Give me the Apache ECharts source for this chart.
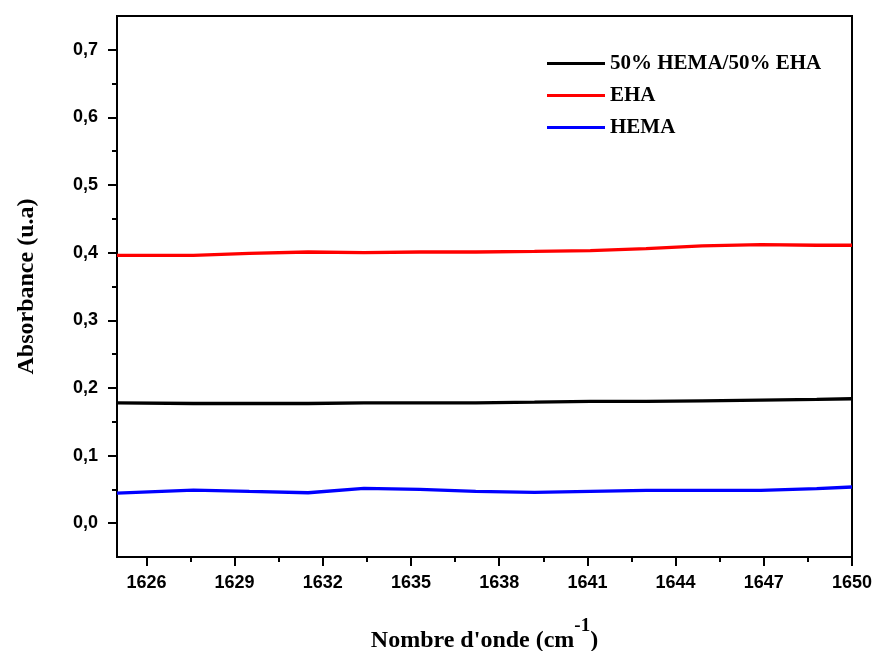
<!DOCTYPE html>
<html>
<head>
<meta charset="utf-8">
<script src="https://cdn.jsdelivr.net/npm/echarts@6/dist/echarts.min.js"></script>
<style>
  html, body { margin: 0; padding: 0; background: #fff; }
  #main { width: 875px; height: 651px; }
</style>
</head>
<body>
<div id="main"></div>
<script>
// wavenumbers (cm-1)
var waveNumbers = [1625, 1627.6, 1629.5, 1631.5, 1633.4, 1635.3, 1637.2, 1639.2, 1641.1, 1643.0, 1644.9, 1646.9, 1648.8, 1650];
var mixValues = [0.178, 0.177, 0.177, 0.177, 0.178, 0.178, 0.178, 0.179, 0.180, 0.180, 0.181, 0.182, 0.183, 0.184];
var ehaValues = [0.396, 0.396, 0.399, 0.401, 0.400, 0.401, 0.401, 0.402, 0.403, 0.406, 0.410, 0.412, 0.411, 0.411];
var hemaValues = [0.0445, 0.049, 0.047, 0.045, 0.0515, 0.050, 0.047, 0.0455, 0.047, 0.0485, 0.0485, 0.0485, 0.051, 0.0535];

var xMajorTicks = [1626, 1629, 1632, 1635, 1638, 1641, 1644, 1647, 1650];
var xMinorTicks = [1627.5, 1630.5, 1633.5, 1636.5, 1639.5, 1642.5, 1645.5, 1648.5];
var yMajorTicks = [0, 0.1, 0.2, 0.3, 0.4, 0.5, 0.6, 0.7];
var yMinorTicks = [0.05, 0.15, 0.25, 0.35, 0.45, 0.55, 0.65];

var seriesNames = ['50% HEMA/50% EHA', 'EHA', 'HEMA'];

function pairs(ys) {
    return waveNumbers.map(function (x, i) { return [x, ys[i]]; });
}

var chart = echarts.init(document.getElementById('main'));

var labelFont = {
    color: '#000',
    fontFamily: 'Liberation Sans, Arial, sans-serif',
    fontWeight: 'bold',
    fontSize: 18
};
var titleFont = {
    color: '#000',
    fontFamily: 'Liberation Serif, Times New Roman, serif',
    fontWeight: 'bold',
    fontSize: 24
};

var option = {
    backgroundColor: '#fff',
    animation: false,
    color: ['#000000', '#ff0000', '#0000ff'],
    grid: {
        left: 117,
        right: 23,
        top: 16,
        bottom: 94,
        outerBoundsMode: 'none',
        containLabel: false,
        show: true,
        borderColor: '#000',
        borderWidth: 2
    },
    legend: {
        data: seriesNames,
        orient: 'vertical',
        left: 547,
        top: 53,
        padding: 0,
        itemGap: 11,
        itemWidth: 58,
        itemHeight: 3,
        icon: 'rect',
        textStyle: {
            color: '#000',
            fontFamily: 'Liberation Serif, Times New Roman, serif',
            fontWeight: 'bold',
            fontSize: 21
        }
    },
    xAxis: [
        {
            type: 'value',
            min: 1625,
            max: 1650,
            name: "{a|Nombre d'onde (cm}{b|-1}{a|)}",
            nameLocation: 'middle',
            nameGap: 60,
            nameTextStyle: {
                rich: {
                    a: Object.assign({}, titleFont, { verticalAlign: 'bottom', lineHeight: 36 }),
                    b: Object.assign({}, titleFont, { fontSize: 19, verticalAlign: 'top', lineHeight: 36 })
                }
            },
            splitLine: { show: false },
            axisLine: { onZero: false, lineStyle: { color: '#000', width: 2 } },
            axisTick: { inside: false, length: 9, customValues: xMajorTicks, lineStyle: { color: '#000', width: 2 } },
            axisLabel: Object.assign({
                margin: 17,
                customValues: xMajorTicks,
                formatter: function (v) { return String(Math.round(v)); }
            }, labelFont)
        },
        {
            type: 'value',
            min: 1625,
            max: 1650,
            position: 'bottom',
            splitLine: { show: false },
            axisLine: { show: false, onZero: false },
            axisTick: { inside: false, length: 5, customValues: xMinorTicks, lineStyle: { color: '#000', width: 2 } },
            axisLabel: { show: false }
        }
    ],
    yAxis: [
        {
            type: 'value',
            min: -0.05,
            max: 0.75,
            name: 'Absorbance (u.a)',
            nameLocation: 'middle',
            nameRotate: 90,
            nameGap: 78,
            nameTextStyle: titleFont,
            splitLine: { show: false },
            axisLine: { show: true, onZero: false, lineStyle: { color: '#000', width: 2 } },
            axisTick: { show: true, inside: false, length: 9, customValues: yMajorTicks, lineStyle: { color: '#000', width: 2 } },
            axisLabel: Object.assign({
                margin: 19,
                customValues: yMajorTicks,
                formatter: function (v) { return v.toFixed(1).replace('.', ','); }
            }, labelFont)
        },
        {
            type: 'value',
            min: -0.05,
            max: 0.75,
            position: 'left',
            splitLine: { show: false },
            axisLine: { show: false, onZero: false },
            axisTick: { show: true, inside: false, length: 5, customValues: yMinorTicks, lineStyle: { color: '#000', width: 2 } },
            axisLabel: { show: false }
        }
    ],
    series: [
        { name: seriesNames[0], type: 'line', showSymbol: false, lineStyle: { width: 3.3 }, data: pairs(mixValues) },
        { name: seriesNames[1], type: 'line', showSymbol: false, lineStyle: { width: 3.3 }, data: pairs(ehaValues) },
        { name: seriesNames[2], type: 'line', showSymbol: false, lineStyle: { width: 3.3 }, data: pairs(hemaValues) }
    ]
};

chart.setOption(option);
</script>
</body>
</html>
